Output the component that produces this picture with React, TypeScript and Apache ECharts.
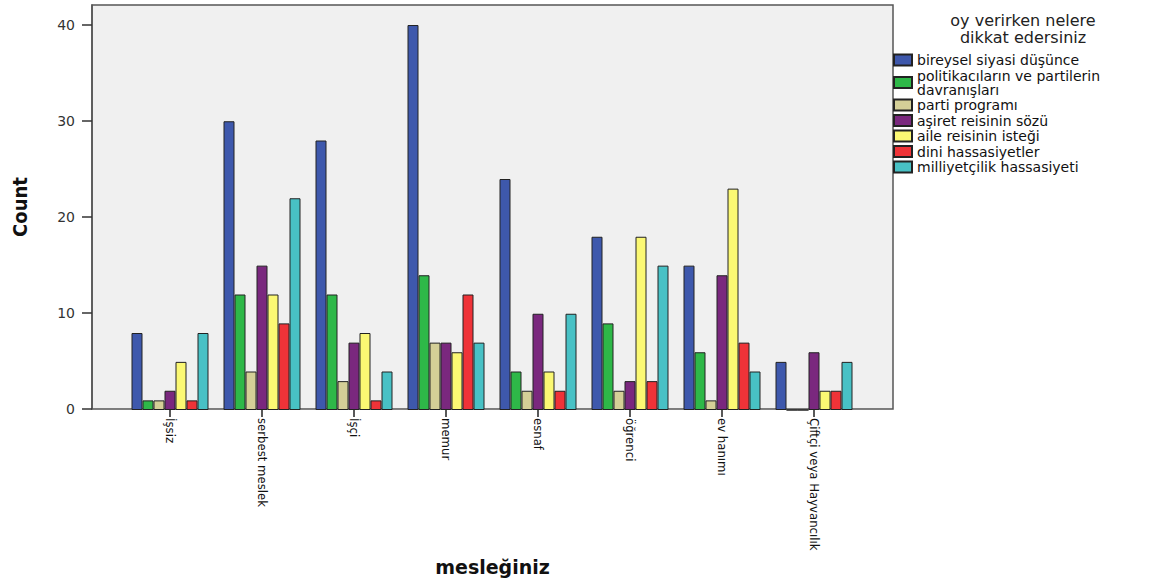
import React, { useEffect, useRef } from "react";
import * as echarts from "echarts";

const categories = [
  "İşsiz",
  "serbest meslek",
  "İşçi",
  "memur",
  "esnaf",
  "öğrenci",
  "ev hanımı",
  "Çiftçi veya Hayvancılık",
];

const seriesNames = [
  "bireysel siyasi düşünce",
  "politikacıların ve partilerin\ndavranışları",
  "parti programı",
  "aşiret reisinin sözü",
  "aile reisinin isteği",
  "dini hassasiyetler",
  "milliyetçilik hassasiyeti",
];

const bireysel = [8, 30, 28, 40, 24, 18, 15, 5];
const politikacilar = [1, 12, 12, 14, 4, 9, 6, 0];
const partiProgrami = [1, 4, 3, 7, 2, 2, 1, 0];
const asiret = [2, 15, 7, 7, 10, 3, 14, 6];
const aile = [5, 12, 8, 6, 4, 18, 23, 2];
const dini = [1, 9, 1, 12, 2, 3, 7, 2];
const milliyetcilik = [8, 22, 4, 7, 10, 15, 4, 5];

const seriesValues = [bireysel, politikacilar, partiProgrami, asiret, aile, dini, milliyetcilik];
const colors = ["#3e58ac", "#2eb848", "#d4cf97", "#7a287e", "#fbf873", "#ef3338", "#48c1c5"];
const yTicks = [0, 10, 20, 30, 40];
const Y_MAX = 42.08;

const narrow = "'Liberation Sans Narrow', 'DejaVu Sans Condensed', 'Arial Narrow', sans-serif";
const wide = "'DejaVu Sans', Verdana, sans-serif";

export default function App() {
  const ref = useRef<HTMLDivElement>(null);
  useEffect(() => {
    if (!ref.current) return;
    const chart = echarts.init(ref.current, undefined, { renderer: "svg" });
    chart.setOption({
      animation: false,
      graphic: [
        {
          type: "text",
          x: 1023,
          y: 12,
          style: {
            text: "oy verirken nelere\ndikkat edersiniz",
            align: "center",
            verticalAlign: "top",
            fontSize: 16,
            lineHeight: 17,
            fontFamily: wide,
            fill: "#222",
          },
        },
      ],
      legend: {
        orient: "vertical",
        left: 893,
        top: 53,
        itemWidth: 18,
        itemHeight: 11,
        itemGap: 1.5,
        icon: "rect",
        selectedMode: false,
        padding: 0,
        textStyle: { fontSize: 14, lineHeight: 14, fontFamily: wide, color: "#111" },
        data: seriesNames,
      },
      grid: [
        {
          left: 92,
          right: 278,
          top: 5,
          bottom: 171,
          show: true,
          backgroundColor: "#f0f0f0",
          borderColor: "#555",
          borderWidth: 1.5,
        },
        { left: 124, width: 736, top: 5, bottom: 171 },
      ],
      xAxis: [
        {
          type: "value",
          gridIndex: 0,
          min: 0,
          max: 1,
          axisLine: { show: false },
          axisTick: { show: false },
          axisLabel: { show: false },
          splitLine: { show: false },
          name: "mesleğiniz",
          nameLocation: "middle",
          nameGap: 148,
          nameTextStyle: { fontSize: 19, fontWeight: "bold", fontFamily: wide, color: "#111" },
        },
        {
          type: "category",
          gridIndex: 1,
          data: categories,
          axisLine: { show: false },
          axisTick: { show: true, alignWithLabel: true, length: 7, lineStyle: { color: "#222", width: 1.5 } },
          axisLabel: {
            rotate: -90,
            interval: 0,
            margin: 8,
            fontSize: 13,
            fontFamily: narrow,
            color: "#111",
            padding: [10, 0, 0, 0],
          },
        },
      ],
      yAxis: [
        {
          type: "value",
          gridIndex: 0,
          min: 0,
          max: Y_MAX,
          axisLine: { show: true, lineStyle: { color: "#555", width: 1.5 } },
          axisTick: { show: true, length: 10, customValues: yTicks, lineStyle: { color: "#333", width: 1.5 } },
          axisLabel: { customValues: yTicks, margin: 17, fontSize: 14, fontFamily: wide, color: "#333" },
          splitLine: { show: false },
          name: "Count",
          nameLocation: "middle",
          nameGap: 62,
          nameTextStyle: { fontSize: 20, fontWeight: "bold", fontFamily: narrow, color: "#111" },
        },
        { type: "value", gridIndex: 1, min: 0, max: Y_MAX, show: false },
      ],
      series: seriesNames.map((name, i) => ({
        type: "bar",
        name,
        xAxisIndex: 1,
        yAxisIndex: 1,
        data: seriesValues[i],
        barWidth: 11,
        barGap: "0%",
        itemStyle: { color: colors[i], borderColor: "#222", borderWidth: 1 },
      })),
    });
    return () => chart.dispose();
  }, []);
  return (
    <div
      ref={ref}
      style={{ position: "fixed", left: 0, top: 0, width: 1171, height: 581, background: "#fff" }}
    />
  );
}
